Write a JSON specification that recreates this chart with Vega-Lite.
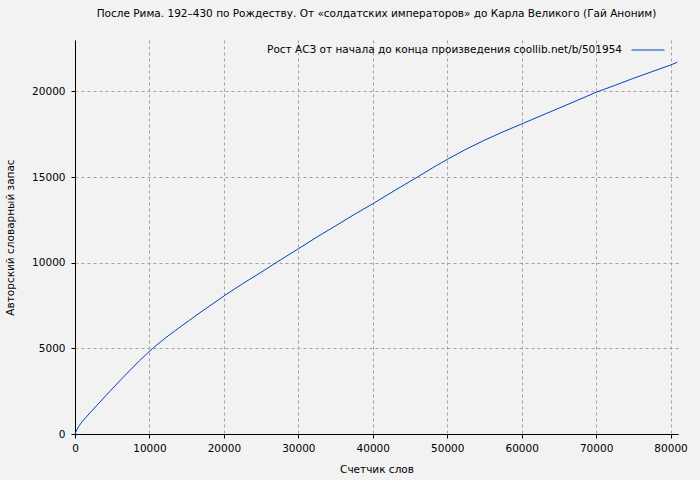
{
  "$schema": "https://vega.github.io/schema/vega-lite/v6.json",
  "autosize": "none",
  "width": 603,
  "height": 394,
  "padding": {"left": 75, "top": 40, "right": 22, "bottom": 46},
  "background": "#f2f2f2",
  "title": {
    "text": "После Рима. 192–430 по Рождеству. От «солдатских императоров» до Карла Великого (Гай Аноним)",
    "font": "DejaVu Sans",
    "fontSize": 10.5,
    "fontWeight": "normal",
    "color": "#000000",
    "anchor": "middle",
    "offset": 14
  },
  "config": {
    "view": {"stroke": null, "fill": "#f2f2f2"},
    "font": "DejaVu Sans",
    "axis": {
      "labelFont": "DejaVu Sans",
      "labelFontSize": 10.5,
      "labelColor": "#000000",
      "titleFont": "DejaVu Sans",
      "titleFontSize": 10.5,
      "titleFontWeight": "normal",
      "titleColor": "#000000",
      "domainColor": "#000000",
      "domainWidth": 1,
      "tickColor": "#000000",
      "tickSize": 4,
      "gridColor": "#a0a0a0",
      "gridDash": [3, 3],
      "gridWidth": 1,
      "gridOpacity": 1
    }
  },
  "data": {
    "values": [
      {"words": 0, "vocab": 0},
      {"words": 250, "vocab": 260},
      {"words": 500, "vocab": 450},
      {"words": 1000, "vocab": 740},
      {"words": 2000, "vocab": 1230},
      {"words": 3000, "vocab": 1700},
      {"words": 4630, "vocab": 2470},
      {"words": 6070, "vocab": 3130},
      {"words": 7320, "vocab": 3690},
      {"words": 8660, "vocab": 4280},
      {"words": 10440, "vocab": 5000},
      {"words": 12000, "vocab": 5560},
      {"words": 13500, "vocab": 6050},
      {"words": 15370, "vocab": 6640},
      {"words": 17500, "vocab": 7300},
      {"words": 20160, "vocab": 8100},
      {"words": 22500, "vocab": 8770},
      {"words": 25000, "vocab": 9440},
      {"words": 27000, "vocab": 10000},
      {"words": 30000, "vocab": 10810},
      {"words": 32500, "vocab": 11500},
      {"words": 35000, "vocab": 12150},
      {"words": 37500, "vocab": 12810},
      {"words": 40000, "vocab": 13440},
      {"words": 43000, "vocab": 14230},
      {"words": 46000, "vocab": 15000},
      {"words": 48000, "vocab": 15530},
      {"words": 50000, "vocab": 16030},
      {"words": 52500, "vocab": 16620},
      {"words": 55000, "vocab": 17150},
      {"words": 57500, "vocab": 17640},
      {"words": 60000, "vocab": 18100},
      {"words": 62500, "vocab": 18560},
      {"words": 65000, "vocab": 19020},
      {"words": 67500, "vocab": 19480},
      {"words": 70000, "vocab": 19950},
      {"words": 72500, "vocab": 20350},
      {"words": 75000, "vocab": 20760},
      {"words": 77500, "vocab": 21150},
      {"words": 80000, "vocab": 21540},
      {"words": 80900, "vocab": 21700}
    ]
  },
  "mark": {"type": "line", "strokeWidth": 1},
  "encoding": {
    "x": {
      "field": "words",
      "type": "quantitative",
      "scale": {"domain": [0, 81000], "nice": false, "zero": true},
      "axis": {"title": "Счетчик слов", "values": [0, 10000, 20000, 30000, 40000, 50000, 60000, 70000, 80000], "format": "d", "labelFlush": false, "titlePadding": 11, "labelPadding": 5}
    },
    "y": {
      "field": "vocab",
      "type": "quantitative",
      "scale": {"domain": [0, 23000], "nice": false},
      "axis": {"title": "Авторский словарный запас", "values": [0, 5000, 10000, 15000, 20000], "format": "d", "titlePadding": 16, "labelPadding": 6}
    },
    "color": {
      "datum": "Рост АСЗ от начала до конца произведения  coollib.net/b/501954",
      "type": "nominal",
      "scale": {"range": ["#0044bb"]},
      "legend": {
        "title": null,
        "orient": "none",
        "legendX": 556,
        "legendY": -7,
        "symbolType": "stroke",
        "symbolSize": 1089,
        "symbolStrokeWidth": 1,
        "labelAlign": "right",
        "labelOffset": -43,
        "labelFont": "DejaVu Sans",
        "labelFontSize": 10.5,
        "labelColor": "#000000",
        "labelLimit": 1000,
        "padding": 0
      }
    }
  }
}
